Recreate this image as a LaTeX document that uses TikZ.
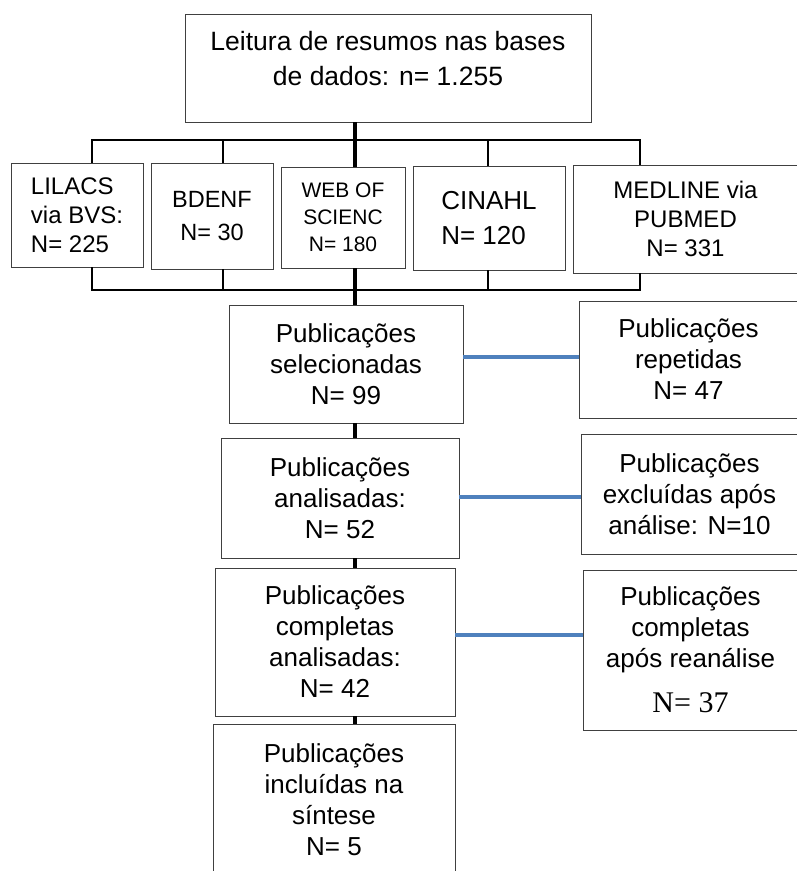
\documentclass[tikz,border=0pt]{standalone}
\usepackage{fontspec}
\setmainfont{Liberation Sans}
\newfontfamily\serifnum{Liberation Serif}
\usepackage{xcolor}
\usepackage{tikz}
\usetikzlibrary{positioning,calc}
\definecolor{linkblue}{HTML}{4F81BD}

\begin{document}
\begin{tikzpicture}[
    x=1pt, y=-1pt,
    pub_box/.style={draw=black!75, line width=0.9pt, inner sep=2pt, align=center, font=\fontsize{26}{31}\selectfont},
    db_box/.style={pub_box, font=\fontsize{24}{29}\selectfont},
    bracket/.style={draw=black, line width=2pt},
    spine/.style={draw=black, line width=3.5pt},
    side_link/.style={draw=linkblue, line width=4pt}
]

\useasboundingbox (0,0) rectangle (796,871);

\node (leitura) [pub_box, minimum width=406pt, minimum height=108pt] at (388,68) {};
\node (leitura_txt) [align=center, font=\fontsize{26.5}{35}\selectfont] at (388,59)
    {Leitura de resumos nas bases\\de dados: n= 1.255};

\node (lilacs)  [db_box, align=left, minimum width=132pt, minimum height=104pt] at (77,215)
    {LILACS\\via BVS:\\N= 225};
\node (bdenf)   [db_box, font=\fontsize{23.5}{33}\selectfont, minimum width=122pt, minimum height=106pt] at (212,216)
    {BDENF\\N= 30};
\node (web)     [db_box, font=\fontsize{21}{27}\selectfont, minimum width=124pt, minimum height=101pt] at (343,217.5)
    {WEB OF\\SCIENC\\N= 180};
\node (cinahl)  [db_box, align=left, font=\fontsize{26}{35}\selectfont, minimum width=152pt, minimum height=104pt] at (489,218)
    {CINAHL\\N= 120};
\node (medline) [db_box, minimum width=225pt, minimum height=108pt] at (685.5,219)
    {MEDLINE via\\PUBMED\\N= 331};

\node (selec)   [pub_box, minimum width=234pt, minimum height=118pt] at (346,364)
    {Publicações\\selecionadas\\N= 99};
\node (repet)   [pub_box, minimum width=219pt, minimum height=117pt] at (688.5,359.5)
    {Publicações\\repetidas\\N= 47};
\node (analis)  [pub_box, minimum width=238pt, minimum height=120pt] at (340,498)
    {Publicações\\analisadas:\\N= 52};
\node (exclu)   [pub_box, minimum width=217pt, minimum height=120pt] at (689.5,494)
    {Publicações\\excluídas após\\análise: N=10};
\node (complet) [pub_box, minimum width=240pt, minimum height=148pt] at (335,642)
    {Publicações\\completas\\analisadas:\\N= 42};
\node (reanal)  [pub_box, minimum width=215pt, minimum height=160pt] at (690.5,650)
    {Publicações\\completas\\após reanálise\\[14pt]{\serifnum\fontsize{30}{30}\selectfont N= 37}};
\node (inclu)   [pub_box, minimum width=242pt, minimum height=151pt] at (334,799.5)
    {Publicações\\incluídas na\\síntese\\N= 5};

\coordinate (spine_x) at (355,0);
\coordinate (br_top) at (0,140);
\coordinate (br_bot) at (0,290);
\coordinate (tick_a) at (92,0);
\coordinate (tick_b) at (223,0);
\coordinate (tick_c) at (488,0);
\coordinate (tick_d) at (640,0);
\coordinate (lvl_a) at (0,357);
\coordinate (lvl_b) at (0,497);
\coordinate (lvl_c) at (0,635);

\draw [bracket] (lilacs.north -| tick_a) |- (br_top -| tick_d) -- (medline.north -| tick_d);
\draw [bracket] (bdenf.north -| tick_b) -- (br_top -| tick_b);
\draw [bracket] (cinahl.north -| tick_c) -- (br_top -| tick_c);
\draw [bracket] (lilacs.south -| tick_a) |- (br_bot -| tick_d) -- (medline.south -| tick_d);
\draw [bracket] (bdenf.south -| tick_b) -- (br_bot -| tick_b);
\draw [bracket] (cinahl.south -| tick_c) -- (br_bot -| tick_c);

\draw [spine] (leitura.south -| spine_x) -- (web.north -| spine_x);
\draw [spine] (web.south -| spine_x) -- (selec.north -| spine_x);
\draw [spine] (selec.south -| spine_x) -- (analis.north -| spine_x);
\draw [spine] (analis.south -| spine_x) -- (complet.north -| spine_x);
\draw [spine] (complet.south -| spine_x) -- (inclu.north -| spine_x);

\draw [side_link] (selec.east |- lvl_a) -- (repet.west |- lvl_a);
\draw [side_link] (analis.east |- lvl_b) -- (exclu.west |- lvl_b);
\draw [side_link] (complet.east |- lvl_c) -- (reanal.west |- lvl_c);

\end{tikzpicture}
\end{document}
